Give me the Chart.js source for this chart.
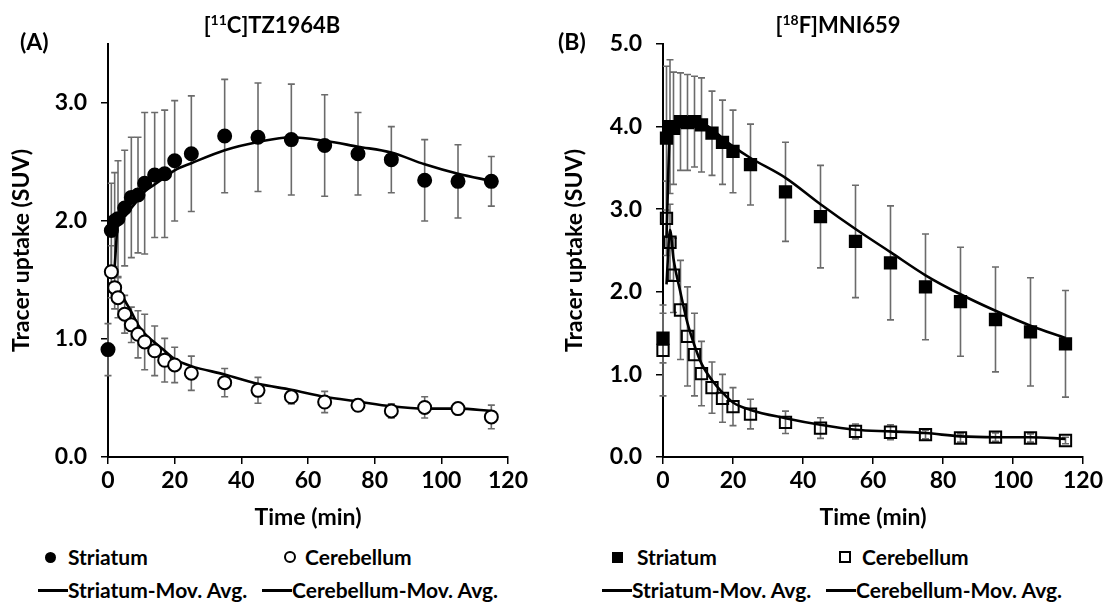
<!DOCTYPE html>
<html><head><meta charset="utf-8">
<script src="https://cdn.jsdelivr.net/npm/chart.js@4.4.1/dist/chart.umd.min.js"></script>
<style>
body{margin:0;width:1106px;height:603px;position:relative;background:#fff;font-family:Lato,"Noto Sans",sans-serif;font-weight:700;color:#000;overflow:hidden}
canvas{position:absolute;top:0}
.t{position:absolute;font-size:22px;line-height:26px;white-space:nowrap;transform:translateX(-50%)}
.t sup{font-size:14px;vertical-align:0;position:relative;top:-8px}
.p{position:absolute;font-size:23px;line-height:26px}
.lg{position:absolute;font-size:21px;line-height:24px;white-space:nowrap}
.mk{position:absolute;box-sizing:border-box}
.ln{position:absolute;height:3px;background:#000}
</style></head>
<body>
<canvas id="cA" width="553" height="540" style="left:0"></canvas>
<canvas id="cB" width="553" height="540" style="left:553px"></canvas>
<div class="p" style="left:20px;top:28px">(A)</div>
<div class="p" style="left:558px;top:28px">(B)</div>
<div class="t" style="left:272px;top:12px">[<sup>11</sup>C]TZ1964B</div>
<div class="t" style="left:838px;top:12px">[<sup>18</sup>F]MNI659</div>

<div class="mk" style="left:45px;top:552px;width:11px;height:11px;border-radius:50%;background:#000"></div>
<div class="lg" style="left:68px;top:545px">Striatum</div>
<div class="mk" style="left:284px;top:551px;width:12px;height:12px;border-radius:50%;border:2px solid #000"></div>
<div class="lg" style="left:305px;top:545px">Cerebellum</div>
<div class="ln" style="left:38px;width:30px;top:589px"></div>
<div class="lg" style="left:68px;top:578px">Striatum-Mov. Avg.</div>
<div class="ln" style="left:262px;width:30px;top:589px"></div>
<div class="lg" style="left:292px;top:578px">Cerebellum-Mov. Avg.</div>

<div class="mk" style="left:612px;top:552px;width:11px;height:11px;background:#000"></div>
<div class="lg" style="left:637px;top:545px">Striatum</div>
<div class="mk" style="left:839px;top:551px;width:12px;height:12px;border:2px solid #000"></div>
<div class="lg" style="left:862px;top:545px">Cerebellum</div>
<div class="ln" style="left:602px;width:30px;top:589px"></div>
<div class="lg" style="left:632px;top:578px">Striatum-Mov. Avg.</div>
<div class="ln" style="left:826px;width:30px;top:589px"></div>
<div class="lg" style="left:856px;top:578px">Cerebellum-Mov. Avg.</div>

<script>
// ---------- Data ----------
const xTicks = [0, 20, 40, 60, 80, 100, 120];
const yTicksA = [0, 1, 2, 3];
const yTicksB = [0, 1, 2, 3, 4, 5];

// Panel A: [11C]TZ1964B
const timeStrA = [0, 1, 2, 3, 5, 7, 9, 11, 14, 17, 20, 25, 35, 45, 55, 65, 75, 85, 95, 105, 115];
const striatumA = [0.91, 1.92, 2.00, 2.02, 2.11, 2.20, 2.22, 2.32, 2.39, 2.40, 2.51, 2.57, 2.72, 2.71, 2.69, 2.64, 2.57, 2.52, 2.345, 2.336, 2.336];
const striatumErrA = [0.22, 0.40, 0.41, 0.49, 0.49, 0.51, 0.49, 0.60, 0.53, 0.54, 0.51, 0.49, 0.48, 0.46, 0.47, 0.43, 0.35, 0.28, 0.345, 0.31, 0.21];
const timeCerA = [1, 2, 3, 5, 7, 9, 11, 14, 17, 20, 25, 35, 45, 55, 65, 75, 85, 95, 105, 115];
const cerebellumA = [1.57, 1.435, 1.35, 1.21, 1.12, 1.04, 0.975, 0.90, 0.82, 0.78, 0.71, 0.63, 0.565, 0.51, 0.466, 0.438, 0.39, 0.42, 0.41, 0.34];
const cerebellumErrA = [0.22, 0.18, 0.17, 0.16, 0.15, 0.20, 0.235, 0.21, 0.185, 0.15, 0.145, 0.12, 0.11, 0.06, 0.09, 0.05, 0.06, 0.09, 0.04, 0.10];
const timeStrAvgA = [2, 3, 5, 7, 9, 11, 14, 17, 20, 25, 35, 45, 55, 65, 75, 85, 95, 105, 115];
const striatumAvgA = [1.61, 1.98, 2.04, 2.11, 2.18, 2.25, 2.31, 2.37, 2.43, 2.49, 2.60, 2.67, 2.71, 2.68, 2.63, 2.58, 2.48, 2.40, 2.34];
const timeCerAvgA = [3, 5, 7, 9, 11, 14, 17, 20, 25, 35, 45, 55, 65, 75, 85, 95, 105, 115];
const cerebellumAvgA = [1.45, 1.33, 1.23, 1.12, 1.045, 0.97, 0.90, 0.83, 0.77, 0.70, 0.62, 0.57, 0.51, 0.47, 0.43, 0.41, 0.41, 0.39];

// Panel B: [18F]MNI659
const timeB = [0, 1, 2, 3, 5, 7, 9, 11, 14, 17, 20, 25, 35, 45, 55, 65, 75, 85, 95, 105, 115];
const striatumB = [1.44, 3.86, 4.00, 3.98, 4.06, 4.05, 4.06, 4.02, 3.92, 3.81, 3.70, 3.54, 3.21, 2.91, 2.61, 2.35, 2.06, 1.88, 1.665, 1.515, 1.37];
const striatumErrB = [0.30, 0.87, 0.81, 0.68, 0.59, 0.58, 0.55, 0.57, 0.51, 0.51, 0.50, 0.49, 0.60, 0.62, 0.68, 0.69, 0.64, 0.66, 0.635, 0.655, 0.645];
const cerebellumB = [1.29, 2.89, 2.60, 2.20, 1.78, 1.46, 1.24, 1.01, 0.84, 0.71, 0.61, 0.52, 0.42, 0.35, 0.31, 0.30, 0.27, 0.23, 0.24, 0.23, 0.20];
const cerebellumErrB = [0.55, 0.45, 0.46, 0.45, 0.60, 0.60, 0.50, 0.39, 0.31, 0.29, 0.23, 0.18, 0.135, 0.125, 0.09, 0.09, 0.05, 0.05, 0.05, 0.05, 0.04];
const timeAvgB = [1, 2, 3, 5, 7, 9, 11, 14, 17, 20, 25, 35, 45, 55, 65, 75, 85, 95, 105, 115];
const striatumAvgB = [2.65, 3.93, 3.99, 4.02, 4.06, 4.06, 4.04, 3.97, 3.86, 3.76, 3.62, 3.38, 3.06, 2.76, 2.48, 2.20, 1.97, 1.77, 1.59, 1.44];
const cerebellumAvgB = [2.09, 2.75, 2.40, 1.99, 1.62, 1.35, 1.13, 0.93, 0.78, 0.66, 0.57, 0.47, 0.39, 0.33, 0.31, 0.29, 0.25, 0.24, 0.24, 0.22];

// ---------- helpers ----------
const pts = (xs, ys) => xs.map((x, i) => ({x, y: ys[i]}));
const FONT = 'Lato';
const tickFont = {family: FONT, size: 23, weight: 'bold'};
const titleFont = {family: FONT, size: 23, weight: 'bold'};

const errorBars = {
  id: 'errorBars',
  beforeDatasetsDraw(chart) {
    const {ctx, scales: {x, y}} = chart;
    ctx.save();
    ctx.strokeStyle = '#6b6b6b';
    ctx.lineWidth = 1.6;
    chart.data.datasets.forEach(ds => {
      if (!ds.errors) return;
      ds.data.forEach((p, j) => {
        const e = ds.errors[j];
        if (!e) return;
        const px = x.getPixelForValue(p.x);
        const t = y.getPixelForValue(p.y + e);
        const b = y.getPixelForValue(Math.max(0, p.y - e));
        ctx.beginPath();
        ctx.moveTo(px, t); ctx.lineTo(px, b);
        ctx.moveTo(px - 3.5, t); ctx.lineTo(px + 3.5, t);
        ctx.moveTo(px - 3.5, b); ctx.lineTo(px + 3.5, b);
        ctx.stroke();
      });
    });
    ctx.restore();
  }
};

function makeChart(id, cfg) {
  return new Chart(document.getElementById(id), {
    type: 'line',
    data: {datasets: cfg.datasets},
    options: {
      responsive: false,
      animation: false,
      layout: {padding: {top: 44, right: cfg.padRight, left: 0, bottom: 0}},
      plugins: {legend: {display: false}, tooltip: {enabled: false}},
      scales: {
        x: {
          type: 'linear', min: 0, max: 120,
          afterBuildTicks: s => { s.ticks = xTicks.map(v => ({value: v})); },
          afterFit: s => { s.height = 83; },
          ticks: {font: tickFont, color: '#000', padding: 3, maxRotation: 0},
          grid: {drawOnChartArea: false, color: '#000', lineWidth: 1.5, tickLength: 7},
          border: {color: '#000', width: 2},
          title: {display: true, text: 'Time (min)', font: titleFont, color: '#000', padding: {top: 0, bottom: 9}}
        },
        y: {
          type: 'linear', min: 0, max: cfg.ymax,
          afterBuildTicks: s => { s.ticks = cfg.yTicks.map(v => ({value: v})); },
          afterFit: s => { s.width = cfg.axisLeft; },
          ticks: {font: tickFont, color: '#000', padding: 14, callback: v => Number(v).toFixed(1)},
          grid: {drawOnChartArea: false, color: '#000', lineWidth: 1.5, tickLength: 7},
          border: {color: '#000', width: 2},
          title: {display: true, text: 'Tracer uptake (SUV)', font: titleFont, color: '#000', padding: {top: 8, bottom: 0}}
        }
      }
    },
    plugins: [errorBars]
  });
}

const markerBase = {showLine: false, clip: false, borderWidth: 2, borderColor: '#000', pointBorderColor: '#000', pointBorderWidth: 2};
const lineBase = {showLine: true, clip: false, borderColor: '#000', borderWidth: 2.6, pointRadius: 0, fill: false, cubicInterpolationMode: 'monotone'};

makeChart('cA', {
  padRight: 45, ymax: 3.5, yTicks: yTicksA, axisLeft: 108,
  datasets: [
    {...markerBase, label: 'Striatum', data: pts(timeStrA, striatumA), errors: striatumErrA,
      pointStyle: 'circle', pointRadius: 6.5, pointBackgroundColor: '#000'},
    {...markerBase, label: 'Cerebellum', data: pts(timeCerA, cerebellumA), errors: cerebellumErrA,
      pointStyle: 'circle', pointRadius: 6.5, pointBackgroundColor: '#fff'},
    {...lineBase, label: 'Striatum-Mov. Avg.', data: pts(timeStrAvgA, striatumAvgA)},
    {...lineBase, label: 'Cerebellum-Mov. Avg.', data: pts(timeCerAvgA, cerebellumAvgA)}
  ]
});

makeChart('cB', {
  padRight: 19, ymax: 5, yTicks: yTicksB, axisLeft: 110,
  datasets: [
    {...markerBase, label: 'Striatum', data: pts(timeB, striatumB), errors: striatumErrB,
      pointStyle: 'rect', pointRadius: 8, pointBackgroundColor: '#000'},
    {...markerBase, label: 'Cerebellum', data: pts(timeB, cerebellumB), errors: cerebellumErrB,
      pointStyle: 'rect', pointRadius: 8, pointBackgroundColor: 'rgba(0,0,0,0)'},
    {...lineBase, label: 'Striatum-Mov. Avg.', data: pts(timeAvgB, striatumAvgB)},
    {...lineBase, label: 'Cerebellum-Mov. Avg.', data: pts(timeAvgB, cerebellumAvgB)}
  ]
});
</script>
</body></html>
